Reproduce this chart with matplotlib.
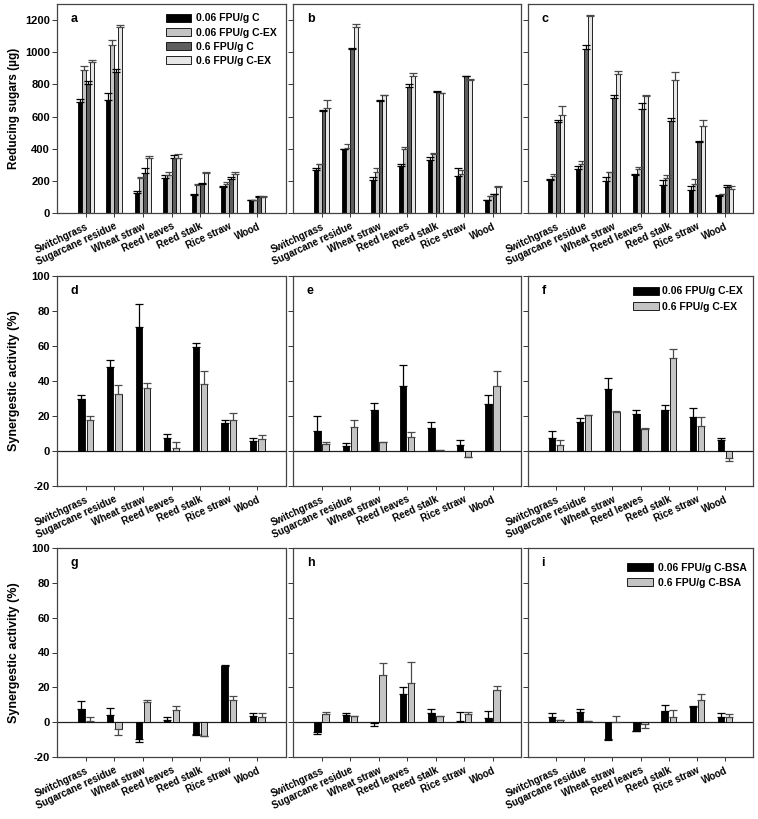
import numpy as np
import matplotlib
matplotlib.use("Agg")
import matplotlib.pyplot as plt
from matplotlib.patches import Patch

plt.rcParams['font.family'] = ['Liberation Sans', 'DejaVu Sans']
plt.rcParams['font.weight'] = 'bold'

categories = ["Switchgrass", "Sugarcane residue", "Wheat straw", "Reed leaves",
              "Reed stalk", "Rice straw", "Wood"]
sugar_ticks = [0, 200, 400, 600, 800, 1000, 1200]
syn_ticks = [-20, 0, 20, 40, 60, 80, 100]

top_series = ["0.06 FPU/g C", "0.06 FPU/g C-EX", "0.6 FPU/g C", "0.6 FPU/g C-EX"]
ex_series = ["0.06 FPU/g C-EX", "0.6 FPU/g C-EX"]
bsa_series = ["0.06 FPU/g C-BSA", "0.6 FPU/g C-BSA"]

# Panel a
a_c_low = [690, 705, 125, 220, 115, 160, 78]
a_c_low_err = [20, 42, 10, 15, 3, 10, 3]
a_cex_low = [890, 1048, 215, 235, 175, 180, 80]
a_cex_low_err = [22, 25, 12, 20, 8, 10, 3]
a_c_high = [800, 876, 250, 340, 180, 210, 100]
a_c_high_err = [18, 22, 30, 18, 8, 12, 5]
a_cex_high = [940, 1160, 345, 345, 250, 245, 102]
a_cex_high_err = [12, 10, 12, 22, 8, 12, 5]

# Panel b
b_c_low = [268, 396, 206, 293, 330, 231, 80]
b_c_low_err = [14, 5, 21, 10, 16, 47, 3]
b_cex_low = [303, 402, 254, 398, 369, 241, 103]
b_cex_low_err = [4, 25, 24, 14, 3, 27, 4]
b_c_high = [633, 1021, 697, 783, 753, 850, 117]
b_c_high_err = [10, 4, 8, 21, 4, 2, 3]
b_cex_high = [656, 1159, 732, 850, 746, 829, 159]
b_cex_high_err = [45, 14, 4, 22, 3, 4, 12]

# Panel c
c_c_low = [206, 272, 200, 237, 173, 144, 103]
c_c_low_err = [3, 21, 21, 6, 33, 27, 8]
c_cex_low = [231, 305, 252, 272, 216, 181, 117]
c_cex_low_err = [12, 19, 3, 17, 21, 29, 3]
c_c_high = [563, 1021, 715, 650, 571, 443, 159]
c_c_high_err = [14, 24, 17, 35, 23, 6, 16]
c_cex_high = [608, 1227, 866, 728, 825, 540, 150]
c_cex_high_err = [56, 3, 17, 3, 51, 41, 15]

# Panel d
d_low = [30, 48, 71, 7.5, 59.5, 16, 5.5]
d_low_err = [2, 4, 13, 2.5, 2, 2, 2]
d_high = [18, 32.5, 36, 2, 38.4, 18, 6.7]
d_high_err = [2, 5.5, 3, 3, 7.2, 4, 2.7]

# Panel e
e_low = [11.3, 2.7, 23.3, 37.4, 13, 3.4, 27]
e_low_err = [8.7, 2.1, 4.4, 11.6, 3.8, 2.7, 5]
e_high = [3.8, 13.6, 5, 8, 0.6, -3.4, 37.2]
e_high_err = [1.2, 4.2, 0.3, 2.9, 0.2, 0.3, 8.4]

# Panel f
f_low = [7.3, 16.4, 35.3, 21.2, 23.7, 19.7, 6.5]
f_low_err = [4.2, 2.6, 6.7, 2.5, 2.8, 4.9, 1.1]
f_high = [3.2, 20.4, 22.5, 12.8, 52.9, 14.1, -3.8]
f_high_err = [3.3, 0.3, 0.3, 0.3, 5.5, 5.6, 1.9]

# Panel g
g_low = [7.6, 4.2, -9.5, 1.3, -6.7, 32.3, 3.8]
g_low_err = [4.6, 3.8, 2, 1.4, 0.6, 0.3, 1.7]
g_high = [0.8, -4, 11.5, 7, -7.8, 12.6, 3.2]
g_high_err = [2.4, 3.6, 1.5, 2.2, 0.3, 2.3, 2.3]

# Panel h
h_low = [-5.7, 4.2, -0.5, 15.9, 5.2, 0.6, 2.3]
h_low_err = [1, 0.8, 1.6, 4.1, 2.6, 5.1, 4]
h_high = [4.6, 3.4, 27, 22.5, 3.4, 4.6, 18.3]
h_high_err = [1.5, 0.4, 6.8, 12.3, 0.3, 1.5, 2.3]

# Panel i
i_low = [3, 5.9, -9.5, -5, 6.5, 8.8, 3.2]
i_low_err = [2, 1.4, 1, 0.3, 3.2, 0.3, 2.1]
i_high = [1, 0.4, 0.2, -1.3, 2.9, 12.8, 2.7]
i_high_err = [0.2, 0.2, 3.6, 1.9, 3.8, 3.6, 1.9]

top_colors = ['#000000', '#c4c4c4', '#5e5e5e', '#e6e6e6']
two_colors = ['#000000', '#c4c4c4']
err_colors4 = ['#000000', '#4a4a4a', '#000000', '#4a4a4a']
err_colors2 = ['#000000', '#4a4a4a']

W, H = 758, 819
fig = plt.figure(figsize=(W / 100, H / 100), dpi=100)

cols = [(57, 286), (293, 521), (528, 753)]
rows = [(4, 213), (276, 486), (548, 757)]


def make_ax(r, c):
    x0, x1 = cols[c]
    y0, y1 = rows[r]
    return fig.add_axes([x0 / W, 1 - y1 / H, (x1 - x0) / W, (y1 - y0) / H])


def directional_err(vals, errs):
    v = np.asarray(vals, float)
    e = np.asarray(errs, float)
    lower = np.where(v < 0, e, 0)
    upper = np.where(v >= 0, e, 0)
    return np.vstack([lower, upper])


def draw_bars(ax, series, errs, colors, ecols, width, offsets):
    x = np.arange(1, len(categories) + 1)
    for vals, er, col, ec, off in zip(series, errs, colors, ecols, offsets):
        ax.bar(x + off, vals, width, color=col, edgecolor='black', linewidth=0.6, zorder=2)
        ax.errorbar(x + off, vals, yerr=directional_err(vals, er), fmt='none',
                    ecolor=ec, elinewidth=0.9, capsize=2.6, capthick=0.9, zorder=3)


def style(ax, letter, yticks, ylim, show_ylabels, ylabel, ylabel_size, zero_line):
    x = np.arange(1, len(categories) + 1)
    ax.set_xlim(0, 8)
    ax.set_ylim(*ylim)
    ax.set_xticks(x)
    ax.set_xticklabels(categories, rotation=25, ha='right', rotation_mode='anchor',
                       fontsize=7, fontweight='bold')
    ax.set_yticks(yticks)
    if show_ylabels:
        ax.set_yticklabels([str(t) for t in yticks], fontsize=8, fontweight='bold')
        ax.set_ylabel(ylabel, fontsize=ylabel_size, fontweight='bold')
        ax.yaxis.set_label_coords(-0.163, 0.5)
    else:
        ax.set_yticklabels([])
    ax.tick_params(direction='out', length=3.5, width=0.7, colors='#333333',
                   labelcolor='black', pad=1.5)
    ax.tick_params(axis='x', length=3, pad=3)
    for s in ax.spines.values():
        s.set_color('#444444')
        s.set_linewidth(0.9)
    if zero_line:
        ax.axhline(0, color='#222222', linewidth=0.9, zorder=1)
    ax.text(0.06, 0.93, letter, transform=ax.transAxes, fontsize=9,
            fontweight='bold', va='center', ha='left')


# Top row
top_data = [
    ([a_c_low, a_cex_low, a_c_high, a_cex_high],
     [a_c_low_err, a_cex_low_err, a_c_high_err, a_cex_high_err], 'a'),
    ([b_c_low, b_cex_low, b_c_high, b_cex_high],
     [b_c_low_err, b_cex_low_err, b_c_high_err, b_cex_high_err], 'b'),
    ([c_c_low, c_cex_low, c_c_high, c_cex_high],
     [c_c_low_err, c_cex_low_err, c_c_high_err, c_cex_high_err], 'c'),
]
offs4 = [-0.21, -0.07, 0.07, 0.21]
for ci, (ser, errs, letter) in enumerate(top_data):
    ax = make_ax(0, ci)
    draw_bars(ax, ser, errs, top_colors, err_colors4, 0.14, offs4)
    style(ax, letter, sugar_ticks, (0, 1300), ci == 0, 'Reducing sugars (\u00b5g)', 8.5, False)
    if ci == 0:
        handles = [Patch(facecolor=c, edgecolor='black', linewidth=0.6) for c in top_colors]
        ax.legend(handles, top_series, loc='upper left', bbox_to_anchor=(0.475, 0.955),
                  frameon=False, handlelength=2.4, handleheight=0.75,
                  labelspacing=0.4, handletextpad=0.5, borderaxespad=0, borderpad=0,
                  prop={'weight': 'bold', 'size': 7.5})

# Middle and bottom rows
offs2 = [-0.145, 0.145]
mid_data = [((d_low, d_high), (d_low_err, d_high_err), 'd'),
            ((e_low, e_high), (e_low_err, e_high_err), 'e'),
            ((f_low, f_high), (f_low_err, f_high_err), 'f')]
bot_data = [((g_low, g_high), (g_low_err, g_high_err), 'g'),
            ((h_low, h_high), (h_low_err, h_high_err), 'h'),
            ((i_low, i_high), (i_low_err, i_high_err), 'i')]

for ri, (rowdata, legend_names, leg_anchor, pad) in enumerate(
        [(mid_data, ex_series, (0.467, 0.95), 0.3),
         (bot_data, bsa_series, (0.44, 0.93), 0.5)], start=1):
    for ci, (ser, errs, letter) in enumerate(rowdata):
        ax = make_ax(ri, ci)
        draw_bars(ax, ser, errs, two_colors, err_colors2, 0.22, offs2)
        style(ax, letter, syn_ticks, (-20, 100), ci == 0, 'Synergestic activity (%)', 9, True)
        if ci == 2:
            handles = [Patch(facecolor=c, edgecolor='black', linewidth=0.6) for c in two_colors]
            ax.legend(handles, legend_names, loc='upper left', bbox_to_anchor=leg_anchor,
                      frameon=False, handlelength=2.5, handleheight=0.8,
                      labelspacing=0.5, handletextpad=pad, borderaxespad=0, borderpad=0,
                      prop={'weight': 'bold', 'size': 7.5})

fig.savefig('out.png', dpi=100)
